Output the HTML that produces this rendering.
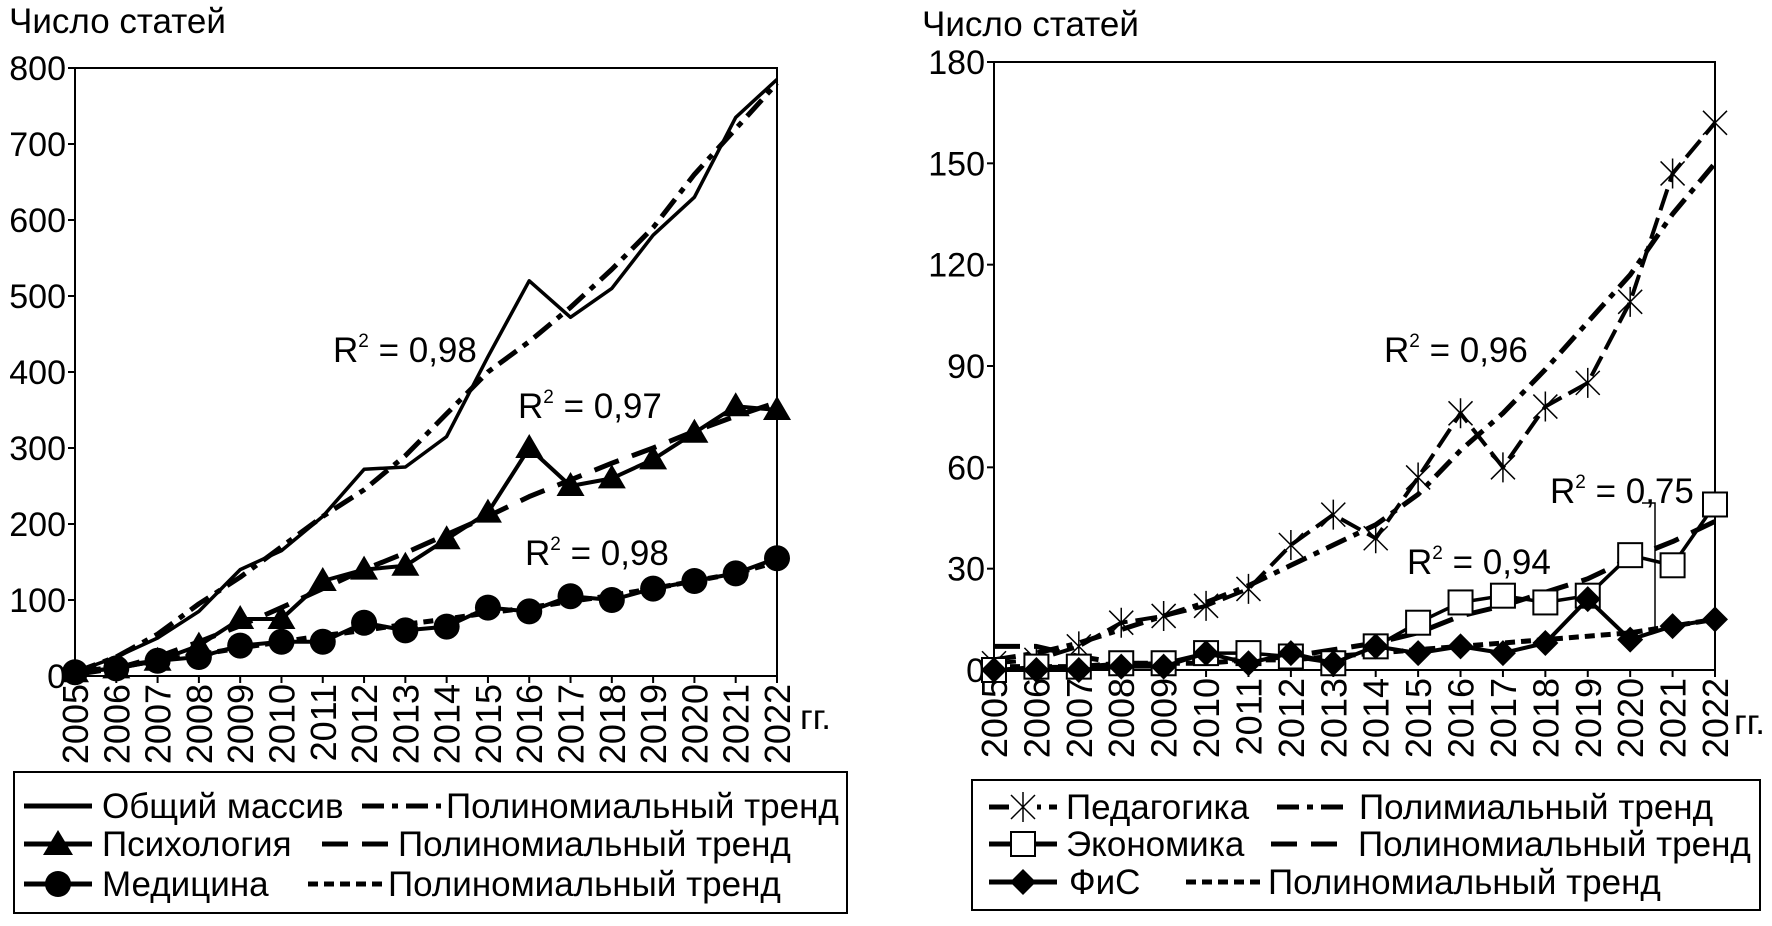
<!DOCTYPE html>
<html><head><meta charset="utf-8"><style>
html,body{margin:0;padding:0;background:#fff;}
svg{display:block;font-family:"Liberation Sans",sans-serif;}
</style></head><body>
<svg id="s" width="1772" height="926" viewBox="0 0 1772 926" xmlns="http://www.w3.org/2000/svg"></svg>
<script>
const years=[2005,2006,2007,2008,2009,2010,2011,2012,2013,2014,2015,2016,2017,2018,2019,2020,2021,2022];
const totalVals=[5,25,50,85,140,165,210,272,275,315,420,520,472,510,580,630,735,785];
const totalTrend=[5,25,55,95,130,170,210,245,290,345,400,440,485,535,590,660,720,780];
const psyVals=[5,10,20,40,75,75,125,140,145,180,215,300,250,260,285,320,355,350];
const psyTrend=[2,10,25,45,66,90,115,140,162,186,210,236,258,280,300,322,342,360];
const medVals=[5,10,20,25,40,45,45,70,60,65,90,85,105,100,115,125,135,155];
const medTrend=[5,12,20,28,37,45,53,60,68,75,83,90,98,106,115,125,135,150];
const leftTicks=[0,100,200,300,400,500,600,700,800];
const pedVals=[2,3,7,14,16,19,24,37,46,39,57,76,60,78,85,109,147,162];
const pedTrend=[3,5,8,12,16,20,25,31,37,43,52,65,76,89,103,117,135,150];
const ecoVals=[0,1,1,2,2,5,5,4,2,7,14,20,22,20,22,34,31,49];
const ecoTrend=[7,7,4,2,2,3,3,4,6,8,11,16,19,23,27,33,38,44];
const fisVals=[0,0,0,1,1,5,2,5,2,7,5,7,5,8,21,9,13,15];
const fisTrend=[1,1,1,2,2,2,3,3,4,5,6,7,8,9,10,11,13,15];
const rightTicks=[0,30,60,90,120,150,180];

const S=document.getElementById('s');
const NS='http://www.w3.org/2000/svg';
function el(t,a,txt){const e=document.createElementNS(NS,t);for(const k in a)e.setAttribute(k,a[k]);if(txt!==undefined)e.textContent=txt;S.appendChild(e);return e;}

function chart(prefix,x0,x1,y0,y1,max,ticks){
  const xs=i=>x0+(x1-x0)*i/(years.length-1);
  const ys=v=>y0-(y0-y1)*v/max;
  const f=el('rect',{x:x0,y:y1,width:x1-x0,height:y0-y1,fill:'none',stroke:'#000','stroke-width':2});
  
  
  ticks.forEach(t=>{
    const l=el('line',{x1:x0-7,x2:x0,y1:ys(t),y2:ys(t),stroke:'#000','stroke-width':2});
    
    
    const tx=el('text',{x:x0-9,y:ys(t)+12,'text-anchor':'end','font-size':34},String(t));
    
    
  });
  years.forEach((yr,i)=>{
    const l=el('line',{x1:xs(i),x2:xs(i),y1:y0,y2:y0+7,stroke:'#000','stroke-width':2});
    
    
    const tx=el('text',{x:0,y:0,'text-anchor':'end','font-size':36,transform:`translate(${xs(i)+13},${y0+8}) rotate(-90)`},String(yr));
    
    
  });
  return {xs,ys};
}
function path(ax,vals,attrs,name){
  const d=vals.map((v,i)=>(i?'L':'M')+ax.xs(i).toFixed(1)+' '+ax.ys(v).toFixed(1)).join(' ');
  const p=el('path',Object.assign({d,fill:'none',stroke:'#000','stroke-linejoin':'round'},attrs));
  
  
}
function markers(ax,vals,kind,name){
  vals.forEach((v,i)=>{
    const x=ax.xs(i),y=ax.ys(v);let m;
    if(kind==='tri')m=el('polygon',{points:`${x},${y-14} ${x-14},${y+10} ${x+14},${y+10}`,fill:'#000'});
    else if(kind==='circ')m=el('circle',{cx:x,cy:y,r:13,fill:'#000'});
    else if(kind==='sq')m=el('rect',{x:x-12,y:y-12,width:24,height:24,fill:'#fff',stroke:'#000','stroke-width':2});
    else if(kind==='dia')m=el('polygon',{points:`${x},${y-13} ${x+13},${y} ${x},${y+13} ${x-13},${y}`,fill:'#000'});
    else m=el('path',{d:`M${x-12} ${y-12}L${x+12} ${y+12}M${x-12} ${y+12}L${x+12} ${y-12}M${x} ${y-15}L${x} ${y+15}`,stroke:'#000','stroke-width':1.5,fill:'none'});
    
    
  });
}
function txt(x,y,s,size,name,anchor){
  const t=el('text',{x,y,'font-size':size,'text-anchor':anchor||'start'},s);
  
  
  return t;
}
function r2(x,y,v,name){
  const t=el('text',{x,y,'font-size':35});
  
  
  t.innerHTML='R<tspan dy="-15" font-size="19">2</tspan><tspan dy="15"> = '+v+'</tspan>';
}

// LEFT
const A=chart('left',75,777,676,68,800,leftTicks);
txt(9,33,'Число статей',35,'left-y-axis-title');
txt(800,729,'гг.',35,'left-x-axis-unit');
path(A,totalTrend,{'stroke-width':5,'stroke-dasharray':'22 8 6 8'},'total-trend-line');
path(A,psyTrend,{'stroke-width':5,'stroke-dasharray':'26 14'},'psy-trend-line');
path(A,medTrend,{'stroke-width':5,'stroke-dasharray':'10 6'},'med-trend-line');
path(A,totalVals,{'stroke-width':3.5},'total-line');
path(A,psyVals,{'stroke-width':4},'psy-line');
markers(A,psyVals,'tri','psy-marker');
path(A,medVals,{'stroke-width':4},'med-line');
markers(A,medVals,'circ','med-marker');
r2(333,362,'0,98','total-r2-label');
r2(518,418,'0,97','psy-r2-label');
r2(525,565,'0,98','med-r2-label');

// right
const B=chart('right',994,1715,670,62,180,rightTicks);
txt(922,36,'Число статей',35,'right-y-axis-title');
txt(1734,734,'гг.',35,'right-x-axis-unit');
path(B,pedTrend,{'stroke-width':5,'stroke-dasharray':'22 8 6 8'},'ped-trend-line');
path(B,ecoTrend,{'stroke-width':5,'stroke-dasharray':'26 14'},'eco-trend-line');
path(B,fisTrend,{'stroke-width':5,'stroke-dasharray':'10 6'},'fis-trend-line');
path(B,pedVals,{'stroke-width':4,'stroke-dasharray':'22 8'},'ped-line');
markers(B,pedVals,'star','ped-marker');
path(B,ecoVals,{'stroke-width':3.5},'eco-line');
markers(B,ecoVals,'sq','eco-marker');
path(B,fisVals,{'stroke-width':4},'fis-line');
markers(B,fisVals,'dia','fis-marker');
r2(1384,362,'0,96','ped-r2-label');
r2(1550,503,'0,75','eco-r2-label');
r2(1407,574,'0,94','fis-r2-label');
const ll=el('path',{d:'M1642 503 L1655 503 L1655 633',stroke:'#000','stroke-width':1.5,fill:'none'});



// legends
function legendBox(x,y,w,h,name){const r=el('rect',{x,y,width:w,height:h,fill:'none',stroke:'#000','stroke-width':2});
}
function legLine(x1,x2,y,dash,name,marker){
  const l=el('line',{x1,x2,y1:y,y2:y,stroke:'#000','stroke-width':5,'stroke-dasharray':dash||'none'});
  
  if(marker){const cx=(x1+x2)/2;let m;
    if(marker==='tri')m=el('polygon',{points:`${cx},${y-14} ${cx-15},${y+11} ${cx+15},${y+11}`,fill:'#000'});
    else if(marker==='circ')m=el('circle',{cx,cy:y,r:13,fill:'#000'});
    else if(marker==='sq')m=el('rect',{x:cx-12,y:y-12,width:24,height:24,fill:'#fff',stroke:'#000','stroke-width':2});
    else if(marker==='dia')m=el('polygon',{points:`${cx},${y-13} ${cx+13},${y} ${cx},${y+13} ${cx-13},${y}`,fill:'#000'});
    else {el('rect',{x:cx-14,y:y-16,width:28,height:32,fill:'#fff'});m=el('path',{d:`M${cx-12} ${y-12}L${cx+12} ${y+12}M${cx-12} ${y+12}L${cx+12} ${y-12}M${cx} ${y-15}L${cx} ${y+15}`,stroke:'#000','stroke-width':1.5});}
    }
}
const F=35;
legendBox(14,772,833,141,'left-legend');
legLine(24,92,806,null,'legend-total-swatch');txt(102,818,'Общий массив',F,'legend-total-label');
legLine(362,441,806,'22 8 6 8','legend-total-trend-swatch');txt(446,818,'Полиномиальный тренд',F,'legend-total-trend-label');
legLine(24,92,844,null,'legend-psy-swatch','tri');txt(102,856,'Психология',F,'legend-psy-label');
legLine(322,390,844,'26 14','legend-psy-trend-swatch');txt(398,856,'Полиномиальный тренд',F,'legend-psy-trend-label');
legLine(24,92,884,null,'legend-med-swatch','circ');txt(102,896,'Медицина',F,'legend-med-label');
legLine(308,382,884,'10 6','legend-med-trend-swatch');txt(388,896,'Полиномиальный тренд',F,'legend-med-trend-label');

legendBox(972,780,788,130,'right-legend');
legLine(989,1057,807,'22 8','legend-ped-swatch','star');txt(1066,819,'Педагогика',F,'legend-ped-label');
legLine(1277,1350,807,'22 8 6 8','legend-ped-trend-swatch');txt(1359,819,'Полимиальный тренд',F,'legend-ped-trend-label');
legLine(989,1057,844,null,'legend-eco-swatch','sq');txt(1066,856,'Экономика',F,'legend-eco-label');
legLine(1271,1350,844,'26 14','legend-eco-trend-swatch');txt(1358,856,'Полиномиальный тренд',F,'legend-eco-trend-label');
legLine(989,1057,882,null,'legend-fis-swatch','dia');txt(1069,894,'ФиС',F,'legend-fis-label');
legLine(1186,1260,882,'10 6','legend-fis-trend-swatch');txt(1268,894,'Полиномиальный тренд',F,'legend-fis-trend-label');
</script>
</body></html>
